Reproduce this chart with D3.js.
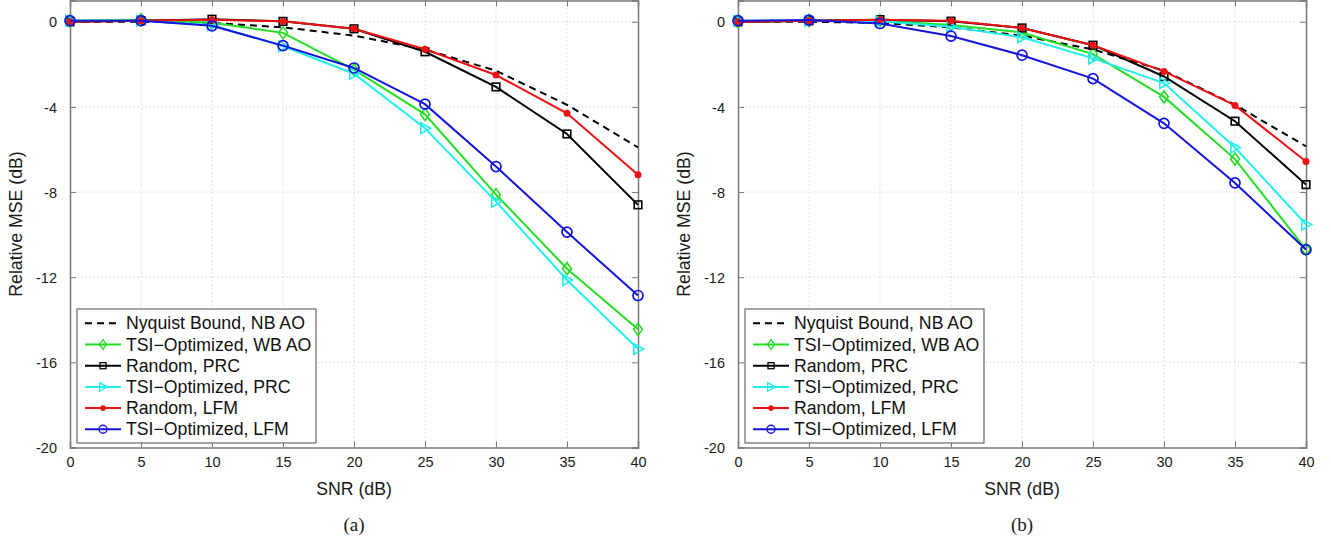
<!DOCTYPE html>
<html>
<head>
<meta charset="utf-8">
<script src="https://cdn.jsdelivr.net/npm/d3@7"></script>
<style>
  body { margin: 0; background: #fff; }
  svg { display: block; font-family: "Liberation Sans", Arial, sans-serif; }
</style>
</head>
<body>
<div id="chart"></div>
<script>
// data (relative MSE in dB vs SNR in dB)
const snr = [0, 5, 10, 15, 20, 25, 30, 35, 40];
const xTicks = [0, 5, 10, 15, 20, 25, 30, 35, 40];
const yTicks = [0, -4, -8, -12, -16, -20];
const seriesNames = ["Nyquist Bound, NB AO", "TSI\u2212Optimized, WB AO", "Random, PRC",
                     "TSI\u2212Optimized, PRC", "Random, LFM", "TSI\u2212Optimized, LFM"];
const panelLabels = ["(a)", "(b)"];

// panel (a)
const nyquistA  = [0, 0, -0.05, -0.26, -0.65, -1.3, -2.3, -3.9, -5.9];
const tsiWbA    = [0.05, 0.1, -0.05, -0.52, -2.25, -4.35, -8.12, -11.6, -14.45];
const randPrcA  = [0, 0.05, 0.12, 0.02, -0.33, -1.41, -3.06, -5.27, -8.6];
const tsiPrcA   = [0.05, 0.05, -0.15, -1.15, -2.44, -5.0, -8.45, -12.13, -15.37];
const randLfmA  = [0, 0.05, 0.1, 0.02, -0.33, -1.29, -2.5, -4.3, -7.19];
const tsiLfmA   = [0.05, 0.05, -0.19, -1.12, -2.17, -3.87, -6.8, -9.88, -12.86];

// panel (b)
const nyquistB  = [0, 0, -0.05, -0.26, -0.65, -1.3, -2.3, -3.9, -5.85];
const tsiWbB    = [0.0, 0.05, 0.05, -0.15, -0.5, -1.52, -3.53, -6.45, -10.7];
const randPrcB  = [0, 0.05, 0.1, 0.03, -0.29, -1.1, -2.57, -4.67, -7.65];
const tsiPrcB   = [0.05, 0.05, 0.02, -0.23, -0.73, -1.72, -2.88, -5.91, -9.52];
const randLfmB  = [0, 0.05, 0.1, 0.05, -0.29, -1.1, -2.33, -3.93, -6.56];
const tsiLfmB   = [0.05, 0.08, -0.08, -0.67, -1.57, -2.67, -4.77, -7.57, -10.7];

const colors  = ["#000000", "#22dd22", "#000000", "#22eeee", "#ee1111", "#1414dd"];
const markers = ["none", "diamond", "square", "triangle", "dot", "circle"];

const W = 1331, H = 541;
const svg = d3.select("#chart").append("svg").attr("width", W).attr("height", H);

const panels = [
  { left: 70,  values: [nyquistA, tsiWbA, randPrcA, tsiPrcA, randLfmA, tsiLfmA], label: panelLabels[0] },
  { left: 738, values: [nyquistB, tsiWbB, randPrcB, tsiPrcB, randLfmB, tsiLfmB], label: panelLabels[1] }
];
const plotW = 568, plotTop = 0.5, plotBottom = 447.5;

function drawMarker(g, type, color) {
  if (type === "diamond") {
    g.append("path").attr("d", "M0,-6L4.4,0L0,6L-4.4,0Z")
      .attr("fill", "none").attr("stroke", color).attr("stroke-width", 1.6);
  } else if (type === "square") {
    g.append("rect").attr("x", -3.8).attr("y", -3.8).attr("width", 7.6).attr("height", 7.6)
      .attr("fill", "none").attr("stroke", color).attr("stroke-width", 1.6);
  } else if (type === "triangle") {
    g.append("path").attr("d", "M5.5,0L-4.2,-5.4L-4.2,5.4Z")
      .attr("fill", "none").attr("stroke", color).attr("stroke-width", 1.6);
  } else if (type === "dot") {
    g.append("circle").attr("r", 3.5).attr("fill", color);
  } else if (type === "circle") {
    g.append("circle").attr("r", 5)
      .attr("fill", "none").attr("stroke", color).attr("stroke-width", 1.7);
  }
}

panels.forEach(p => {
  const x = d3.scaleLinear().domain([0, 40]).range([p.left, p.left + plotW]);
  const y = d3.scaleLinear().domain([-20, 1]).range([plotBottom, plotTop]);
  const g = svg.append("g");

  // dotted grid
  g.append("g").selectAll("line").data(xTicks.slice(1, -1)).join("line")
    .attr("x1", d => x(d)).attr("x2", d => x(d))
    .attr("y1", plotTop).attr("y2", plotBottom)
    .attr("stroke", "#c4c4c4").attr("stroke-dasharray", "1,3");
  g.append("g").selectAll("line").data(yTicks.slice(0, -1)).join("line")
    .attr("x1", p.left).attr("x2", p.left + plotW)
    .attr("y1", d => y(d)).attr("y2", d => y(d))
    .attr("stroke", "#c4c4c4").attr("stroke-dasharray", "1,3");

  // axes: ticks inward on all four sides
  const axisColor = "#7a7a7a";
  const bottom = g.append("g").attr("transform", `translate(0,${plotBottom})`)
    .call(d3.axisBottom(x).tickValues(xTicks).tickSize(-6).tickPadding(9));
  const left = g.append("g").attr("transform", `translate(${p.left},0)`)
    .call(d3.axisLeft(y).tickValues(yTicks).tickSize(-6).tickPadding(13).tickFormat(d3.format("d")));
  g.append("g").attr("transform", `translate(0,${plotTop})`)
    .call(d3.axisTop(x).tickValues(xTicks).tickSize(-6).tickFormat(""));
  g.append("g").attr("transform", `translate(${p.left + plotW},0)`)
    .call(d3.axisRight(y).tickValues(yTicks).tickSize(-6).tickFormat(""));
  g.selectAll(".domain").attr("stroke", axisColor).attr("stroke-width", 1.5);
  g.selectAll(".tick line").attr("stroke", axisColor);
  [bottom, left].forEach(a => a.selectAll("text")
    .attr("fill", "#1a1a1a").style("font-size", "14.5px")
    .style("font-family", '"Liberation Sans", Arial, sans-serif'));
  left.selectAll("text").text(d => d === 0 ? "0" : "-" + Math.abs(d)).attr("dy", "0.35em");

  // lines and markers
  p.values.forEach((vals, i) => {
    const pts = snr.map((s, k) => [x(s), y(vals[k])]);
    g.append("path").attr("d", d3.line()(pts))
      .attr("fill", "none").attr("stroke", colors[i]).attr("stroke-width", 2)
      .attr("stroke-dasharray", i === 0 ? "7,5" : null);
    if (markers[i] !== "none") {
      pts.forEach(pt => drawMarker(g.append("g").attr("transform", `translate(${pt[0]},${pt[1]})`), markers[i], colors[i]));
    }
  });

  // axis titles
  g.append("text").attr("x", p.left + plotW / 2).attr("y", 495)
    .attr("text-anchor", "middle").style("font-size", "17.7px").attr("fill", "#1a1a1a").text("SNR (dB)");
  g.append("text").attr("transform", `translate(${p.left - 48},${(plotTop + plotBottom) / 2}) rotate(-90)`)
    .attr("text-anchor", "middle").style("font-size", "17.7px").attr("fill", "#1a1a1a").text("Relative MSE (dB)");
  g.append("text").attr("x", p.left + plotW / 2).attr("y", 531)
    .attr("text-anchor", "middle").style("font-size", "19px")
    .style("font-family", '"Liberation Serif", "Times New Roman", serif').attr("fill", "#1a1a1a").text(p.label);

  // legend
  const lx = p.left + 7, ly = 309;
  const leg = g.append("g");
  leg.append("rect").attr("x", lx).attr("y", ly).attr("width", 239).attr("height", 134)
    .attr("fill", "#fff").attr("stroke", "#6a6a6a").attr("stroke-width", 1.2);
  seriesNames.forEach((name, i) => {
    const ry = 323.3 + i * 21.2;
    leg.append("line").attr("x1", lx + 8).attr("x2", lx + 44).attr("y1", ry).attr("y2", ry)
      .attr("stroke", colors[i]).attr("stroke-width", 2)
      .attr("stroke-dasharray", i === 0 ? "7,5" : null);
    if (markers[i] !== "none") {
      const mg = leg.append("g").attr("transform", `translate(${lx + 26},${ry}) scale(0.8)`);
      drawMarker(mg, markers[i], colors[i]);
    }
    leg.append("text").attr("x", lx + 49).attr("y", ry).attr("dy", "0.35em")
      .style("font-size", "17.7px").attr("fill", "#111").text(name);
  });
});
</script>
</body>
</html>
